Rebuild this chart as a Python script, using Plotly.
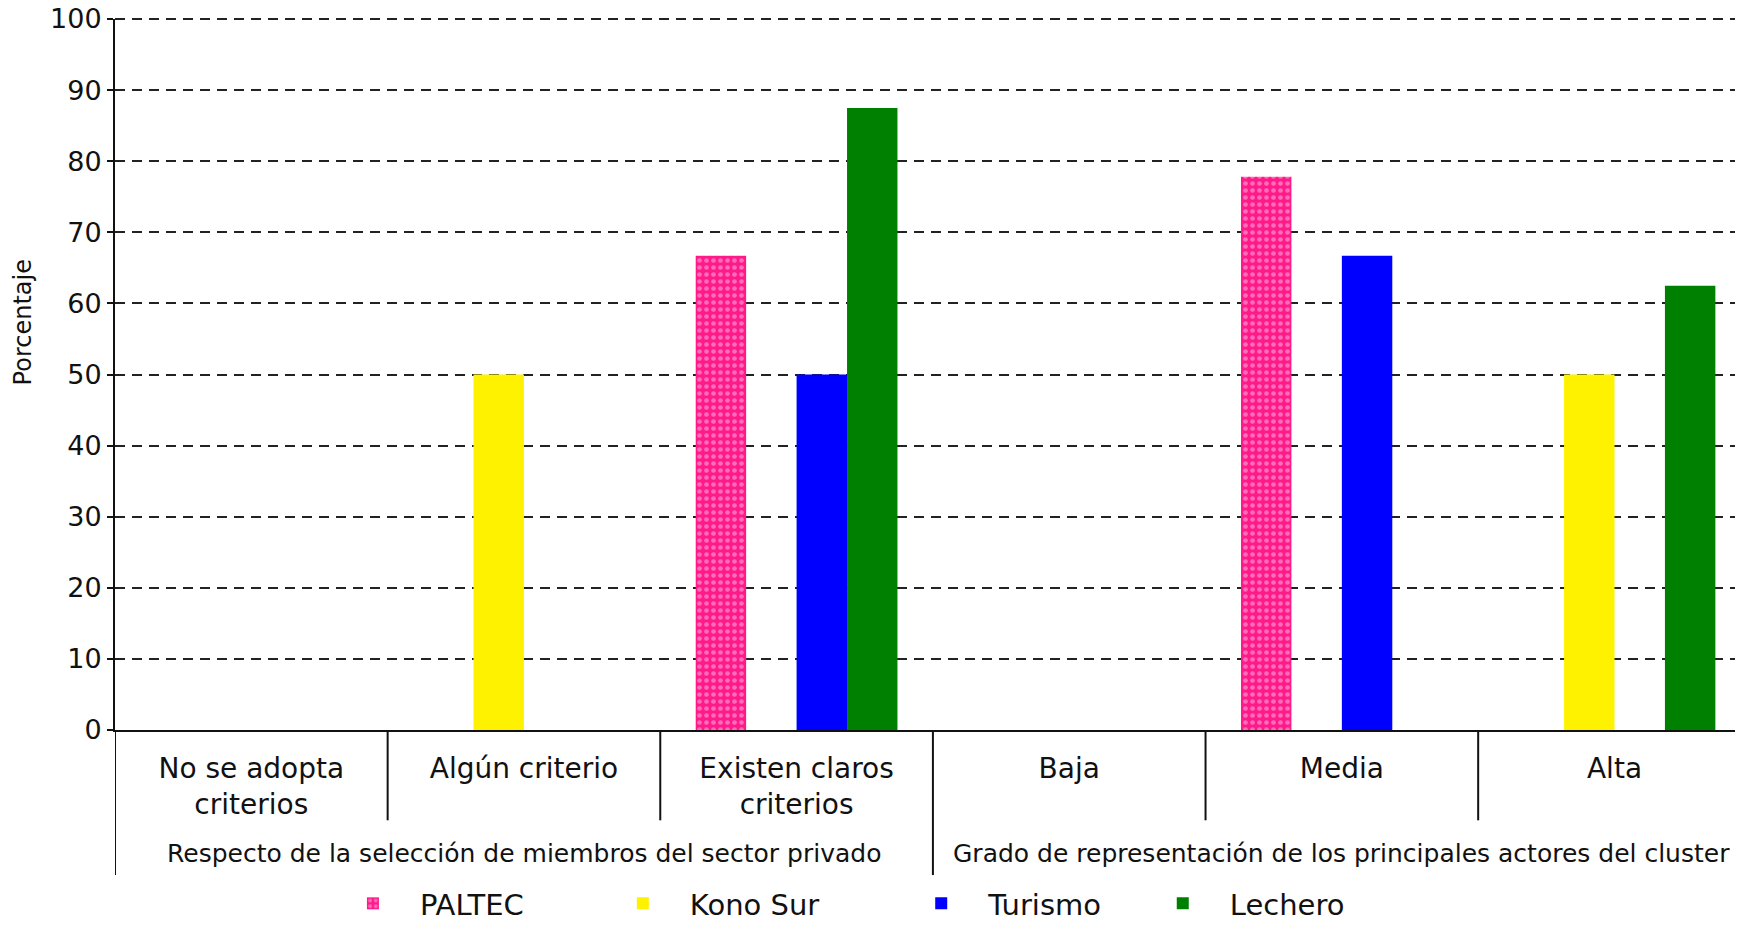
import plotly.graph_objects as go

# categorías del eje x y grupos
categories = ['No se adopta<br>criterios', 'Algún criterio', 'Existen claros<br>criterios',
              'Baja', 'Media', 'Alta']
groups = ['Respecto de la selección de miembros del sector privado',
          'Grado de representación de los principales actores del cluster']
yticks = [0, 10, 20, 30, 40, 50, 60, 70, 80, 90, 100]

# porcentajes por cluster
paltec = [0, 0, 66.7, 0, 77.8, 0]
kono_sur = [0, 50, 0, 0, 0, 50]
turismo = [0, 0, 50, 0, 66.7, 0]
lechero = [0, 0, 87.5, 0, 0, 62.5]

FONT = 'DejaVu Sans'
INK = '#111111'

fig = go.Figure()
fig.add_trace(go.Bar(name='PALTEC', x=categories, y=paltec, legend='legend',
                     marker=dict(color='#ff1a8c', line_width=0,
                                 pattern=dict(shape='.', fgcolor='#ffc0e0', bgcolor='#ff1a8c',
                                              size=7, solidity=0.35))))
fig.add_trace(go.Bar(name='Kono Sur', x=categories, y=kono_sur, legend='legend2',
                     marker=dict(color='#fff200', line_width=0)))
fig.add_trace(go.Bar(name='Turismo', x=categories, y=turismo, legend='legend3',
                     marker=dict(color='#0000ff', line_width=0)))
fig.add_trace(go.Bar(name='Lechero', x=categories, y=lechero, legend='legend4',
                     marker=dict(color='#008000', line_width=0)))

# divisiones entre categorías
shapes = []
for i in range(len(categories) - 1):
    outer = (i == 2)
    shapes.append(dict(type='line', xref='x', yref='paper', x0=i + 0.5, x1=i + 0.5,
                       y0=0, y1=-0.204 if outer else -0.127,
                       line=dict(color=INK, width=2)))
shapes.append(dict(type='line', xref='x', yref='paper', x0=-0.5, x1=-0.5,
                   y0=0, y1=-0.204, line=dict(color=INK, width=2)))
# línea de grilla superior (100), en papel para que no se recorte
shapes.append(dict(type='line', xref='paper', yref='paper', x0=0, x1=1, y0=1, y1=1,
                   layer='below', line=dict(color='#222222', width=2, dash='10px,7px')))

annotations = [
    dict(text=groups[0], xref='x', yref='paper', x=1, y=-0.1744, showarrow=False,
         xanchor='center', yanchor='middle', font=dict(size=25, color=INK, family=FONT)),
    dict(text=groups[1], xref='x', yref='paper', x=4, y=-0.1744, showarrow=False,
         xanchor='center', yanchor='middle', font=dict(size=25, color=INK, family=FONT)),
    dict(text='Porcentaje', xref='paper', yref='paper', x=-0.0571, y=0.574, showarrow=False,
         textangle=-90, xanchor='center', yanchor='middle',
         font=dict(size=24, color=INK, family=FONT)),
]

leg = dict(orientation='h', yanchor='middle', y=-0.2440, xanchor='left',
           font=dict(size=29, color=INK, family=FONT), bgcolor='rgba(0,0,0,0)', itemwidth=84)

fig.update_layout(
    width=1727, height=913,
    margin=dict(l=107, r=0, t=11, b=191, autoexpand=False),
    paper_bgcolor='white', plot_bgcolor='white',
    barmode='group', bargap=0.26, bargroupgap=0,
    font=dict(family=FONT, color=INK),
    shapes=shapes, annotations=annotations,
    showlegend=True,
    legend=dict(leg, x=0.1302),
    legend2=dict(leg, x=0.2968),
    legend3=dict(leg, x=0.4810),
    legend4=dict(leg, x=0.6301),
)
fig.update_xaxes(range=[-0.5, 5.442], showline=True, linecolor=INK, linewidth=2,
                 showgrid=False, ticks='', tickfont=dict(size=28, family=FONT, color=INK),
                 ticklabelstandoff=12, automargin=False)
fig.update_yaxes(range=[0, 100], tickvals=yticks, showline=True, linecolor=INK, linewidth=2,
                 ticks='outside', ticklen=6, tickwidth=2, tickcolor=INK,
                 showgrid=True, gridcolor='#222222', gridwidth=2, griddash='10px,7px',
                 zeroline=False, tickfont=dict(size=27, family=FONT, color=INK),
                 ticklabeloverflow='allow', automargin=False)

fig.write_html('out.html')
